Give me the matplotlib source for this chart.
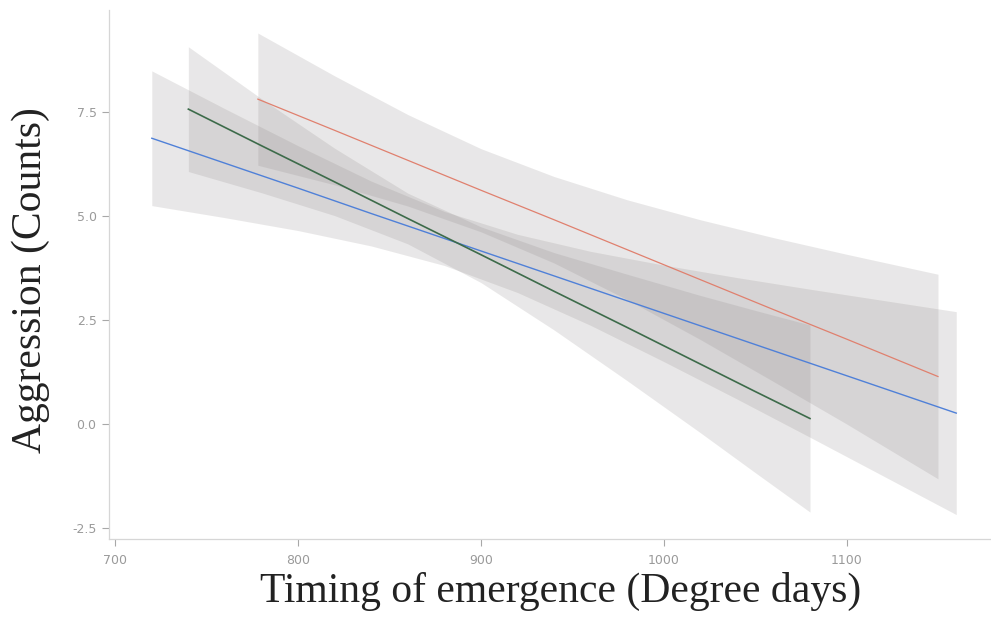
import matplotlib
matplotlib.use("Agg")
import matplotlib.pyplot as plt

# Values: fitted line and 95% band for each group
blue_x = [720, 760, 800, 840, 880, 920, 960, 1000, 1040, 1080, 1120, 1160]
blue_fit = [6.88, 6.28, 5.68, 5.07, 4.47, 3.87, 3.27, 2.67, 2.07, 1.47, 0.87, 0.27]
blue_hi = [8.50, 7.59, 6.70, 5.85, 5.12, 4.57, 4.16, 3.83, 3.53, 3.25, 2.98, 2.71]
blue_lo = [5.26, 4.97, 4.66, 4.29, 3.82, 3.17, 2.38, 1.51, 0.61, -0.31, -1.24, -2.17]

green_x = [740, 780, 820, 860, 900, 940, 980, 1020, 1050, 1080]
green_fit = [7.58, 6.70, 5.83, 4.95, 4.08, 3.20, 2.33, 1.45, 0.79, 0.14]
green_hi = [9.08, 7.83, 6.64, 5.56, 4.75, 4.13, 3.61, 3.10, 2.74, 2.39]
green_lo = [6.08, 5.57, 5.02, 4.34, 3.41, 2.27, 1.05, -0.20, -1.16, -2.11]

red_x = [778, 820, 860, 900, 940, 980, 1020, 1060, 1100, 1150]
red_fit = [7.82, 7.07, 6.35, 5.63, 4.92, 4.20, 3.48, 2.76, 2.05, 1.15]
red_hi = [9.41, 8.38, 7.45, 6.63, 5.96, 5.40, 4.92, 4.49, 4.09, 3.61]
red_lo = [6.23, 5.76, 5.25, 4.63, 3.88, 3.00, 2.04, 1.03, 0.01, -1.31]

x_ticks = [700, 800, 900, 1000, 1100]
y_ticks = [-2.5, 0.0, 2.5, 5.0, 7.5]

fig = plt.figure(figsize=(9.91, 6.35), dpi=100)
ax = fig.add_axes([0.110, 0.151, 0.890, 0.833])

band_col = "#8a8485"
for xs, lo, hi in [(blue_x, blue_lo, blue_hi), (green_x, green_lo, green_hi), (red_x, red_lo, red_hi)]:
    ax.fill_between(xs, lo, hi, color=band_col, alpha=0.19, linewidth=0)

ax.plot(blue_x, blue_fit, color="#4f80d8", lw=1.0)
ax.plot(green_x, green_fit, color="#3d6b4a", lw=1.2)
ax.plot(red_x, red_fit, color="#e0806e", lw=0.9)

ax.set_xlim(696.6, 1179)
ax.set_ylim(-2.76, 9.96)
ax.set_xticks(x_ticks)
ax.set_yticks(y_ticks)
ax.set_yticklabels(["%.1f" % v for v in y_ticks])

for side in ["top", "right"]:
    ax.spines[side].set_visible(False)
for side in ["left", "bottom"]:
    ax.spines[side].set_color("#d6d6d6")
    ax.spines[side].set_linewidth(0.9)
ax.tick_params(colors="#a8a8a8", labelcolor="#9a9a9a", labelsize=9, length=5, width=0.8)
ax.tick_params(axis="y", pad=4)
ax.tick_params(axis="x", pad=6)

ax.set_xlabel("Timing of emergence (Degree days)", family="Liberation Serif", fontsize=30, color="#222222")
ax.set_ylabel("Aggression (Counts)", family="Liberation Serif", fontsize=30, color="#222222")
ax.xaxis.set_label_coords(0.512, -0.062)
ax.yaxis.set_label_coords(-0.067, 0.49)

fig.savefig("out.png", dpi=100)
